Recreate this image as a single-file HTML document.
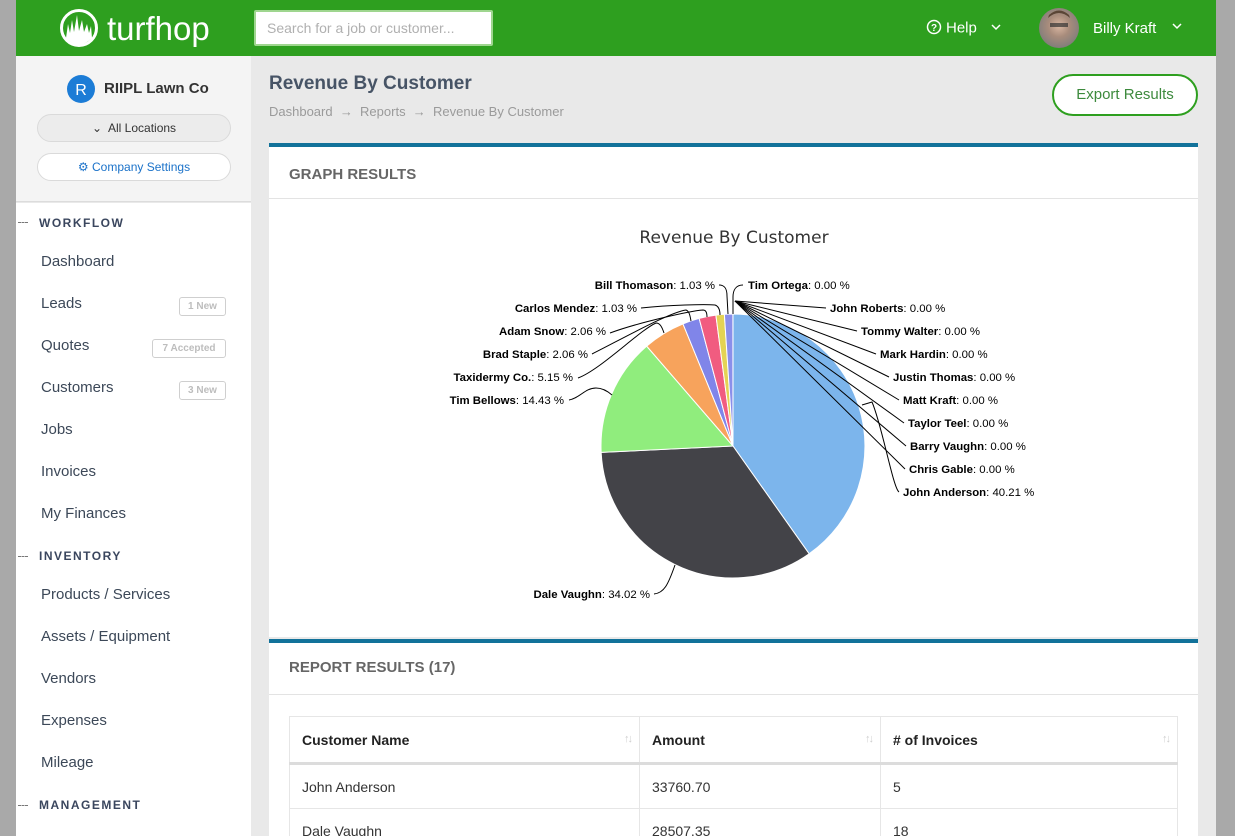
<!DOCTYPE html>
<html><head><meta charset="utf-8">
<style>
*{margin:0;padding:0;box-sizing:border-box;}
html,body{width:1235px;height:836px;overflow:hidden;background:#e9e9e9;font-family:"Liberation Sans",Arial,sans-serif;}
#wrap{position:relative;width:1235px;height:836px;overflow:hidden;}
.abs{position:absolute;}
#lg{left:0;top:0;width:16px;height:836px;background:#a9a9a9;}
#rg{left:1216px;top:0;width:19px;height:836px;background:#a9a9a9;}
#hdr{left:16px;top:0;width:1200px;height:56px;background:#2e9f1f;}
#search{left:254px;top:10px;width:239px;height:36px;background:#fff;border:2px solid #9fd68f;border-radius:2px;}
#search span{position:absolute;left:11px;top:8px;font-size:14px;color:#b0b0b0;}
#sbtop{left:16px;top:56px;width:235px;height:146px;background:#f4f4f4;border-bottom:1px solid #dcdcdc;}
#sb{left:16px;top:203px;width:235px;height:633px;background:#fff;}
.pill{position:absolute;left:37px;width:194px;height:28px;border-radius:14px;border:1px solid #dadada;font-size:12px;text-align:center;line-height:26px;}
.sec{position:absolute;left:39px;font-size:12px;font-weight:bold;letter-spacing:1.5px;color:#3a465e;line-height:14px;}
.dash{position:absolute;left:18px;width:10px;border-top:1px dashed #777;}
.it{position:absolute;left:41px;font-size:15px;color:#3c4858;line-height:20px;}
.badge{position:absolute;height:19px;border:1px solid #cfcfcf;border-radius:3px;font-size:10px;font-weight:bold;color:#bdbdbd;line-height:17px;text-align:center;}
.card{position:absolute;left:269px;width:929px;background:#fff;border-top:4px solid #12729a;}
.ch{position:absolute;left:20px;font-size:15px;font-weight:bold;color:#666;}
table{position:absolute;left:289px;top:716px;width:889px;border-collapse:collapse;font-size:14px;}
td,th{border:1px solid #e6e6e6;text-align:left;padding:0 12px;position:relative;}
th{height:47px;font-weight:bold;color:#222;border-bottom:3px solid #dcdcdc;}
td{height:45px;color:#333;}
.srt{position:absolute;right:8px;top:16px;font-size:11px;color:#cfcfcf;font-weight:normal;letter-spacing:-2px;}
</style></head><body>
<div id="wrap">
<div id="lg" class="abs"></div>
<div id="rg" class="abs"></div>
<div id="hdr" class="abs"></div>

<!-- logo -->
<svg class="abs" style="left:0;top:0" width="240" height="56">
  <circle cx="79" cy="28" r="17.5" fill="none" stroke="#fff" stroke-width="3"/>
  <path d="M66 38 L68 24 L70 33 L72 20 L74 32 L77 15 L79 31 L82 20 L84 32 L87 24 L89 33 L91 26 L92 38 Q86 44 79 45 Q71 44 66 38 Z" fill="#fff"/>
  <text x="107" y="40" font-family="Liberation Sans, Arial, sans-serif" font-size="33" fill="#fff">turfhop</text>
</svg>
<div id="search" class="abs"><span>Search for a job or customer...</span></div>

<!-- help -->
<svg class="abs" style="left:920px;top:14px" width="90" height="28">
  <circle cx="14" cy="13" r="6.5" fill="none" stroke="#fff" stroke-width="1.5"/>
  <text x="14" y="17" text-anchor="middle" font-family="Liberation Sans, Arial, sans-serif" font-size="10" font-weight="bold" fill="#fff">?</text>
  <text x="26" y="18.5" font-family="Liberation Sans, Arial, sans-serif" font-size="15" fill="#fff">Help</text>
  <path d="M72 11 L76 15 L80 11" stroke="#fff" stroke-width="1.5" fill="none"/>
</svg>
<!-- avatar -->
<svg class="abs" style="left:1036px;top:6px" width="160" height="46">
  <defs><radialGradient id="av" cx="0.5" cy="0.45" r="0.6"><stop offset="0" stop-color="#d9b7a2"/><stop offset="0.45" stop-color="#a88c7c"/><stop offset="1" stop-color="#7b7b7b"/></radialGradient></defs>
  <circle cx="23" cy="22" r="20" fill="url(#av)"/>
  <rect x="14" y="17" width="18" height="4" fill="#333" opacity="0.7"/>
  <path d="M12 12 Q23 2 34 12 L33 9 Q23 0 13 9 Z" fill="#5a4536"/>
  <text x="57" y="27" font-family="Liberation Sans, Arial, sans-serif" font-size="15" fill="#fff">Billy Kraft</text>
  <path d="M137 18 L141 22 L145 18" stroke="#fff" stroke-width="1.5" fill="none"/>
</svg>

<!-- sidebar -->
<div id="sbtop" class="abs"></div>
<div id="sb" class="abs"></div>
<svg class="abs" style="left:66px;top:74px" width="32" height="32">
  <circle cx="15" cy="15" r="14" fill="#1c7cd6"/>
  <text x="15" y="21" text-anchor="middle" font-family="Liberation Sans, Arial, sans-serif" font-size="16" fill="#fff">R</text>
</svg>
<div class="abs" style="left:104px;top:80px;font-size:15px;color:#333;font-weight:bold;line-height:18px;">RIIPL Lawn Co</div>
<div class="pill" style="top:114px;background:#ececec;color:#333;">&#8964;&nbsp; All Locations</div>
<div class="pill" style="top:153px;background:#fff;color:#1b72c9;">&#9881; Company Settings</div>

<div class="dash" style="top:222px"></div><div class="sec" style="top:216px">WORKFLOW</div>
<div class="it" style="top:252px">Dashboard</div>
<div class="it" style="top:294px">Leads</div><div class="badge" style="left:179px;top:297px;width:47px;">1 New</div>
<div class="it" style="top:336px">Quotes</div><div class="badge" style="left:152px;top:339px;width:74px;">7 Accepted</div>
<div class="it" style="top:378px">Customers</div><div class="badge" style="left:179px;top:381px;width:47px;">3 New</div>
<div class="it" style="top:420px">Jobs</div>
<div class="it" style="top:462px">Invoices</div>
<div class="it" style="top:504px">My Finances</div>
<div class="dash" style="top:556px"></div><div class="sec" style="top:549px">INVENTORY</div>
<div class="it" style="top:585px">Products / Services</div>
<div class="it" style="top:627px">Assets / Equipment</div>
<div class="it" style="top:669px">Vendors</div>
<div class="it" style="top:711px">Expenses</div>
<div class="it" style="top:753px">Mileage</div>
<div class="dash" style="top:805px"></div><div class="sec" style="top:798px">MANAGEMENT</div>

<!-- main header -->
<div class="abs" style="left:269px;top:73px;font-size:19px;font-weight:bold;color:#475466;line-height:22px;">Revenue By Customer</div>
<div class="abs" style="left:269px;top:104px;font-size:13px;color:#9a9a9a;line-height:16px;">Dashboard &nbsp;&#8594;&nbsp; Reports &nbsp;&#8594;&nbsp; Revenue By Customer</div>
<div class="abs" style="left:1052px;top:74px;width:146px;height:42px;border:2px solid #2e9f1f;border-radius:21px;background:#fff;font-size:15px;color:#3d8a3d;text-align:center;line-height:38px;">Export Results</div>

<!-- card 1 -->
<div class="card" style="top:143px;height:494px;">
  <div class="ch" style="top:19px;">GRAPH RESULTS</div>
  <div class="abs" style="left:0;top:51px;width:929px;border-top:1px solid #e3e3e3;"></div>
</div>
<!-- card 2 -->
<div class="card" style="top:639px;height:197px;">
  <div class="ch" style="top:16px;">REPORT RESULTS (17)</div>
  <div class="abs" style="left:0;top:51px;width:929px;border-top:1px solid #e3e3e3;"></div>
</div>
<table>
<tr><th style="width:350px">Customer Name<span class="srt">&#8593;&#8595;</span></th><th style="width:241px">Amount<span class="srt">&#8593;&#8595;</span></th><th>&#35; of Invoices<span class="srt">&#8593;&#8595;</span></th></tr>
<tr><td>John Anderson</td><td>33760.70</td><td>5</td></tr>
<tr><td>Dale Vaughn</td><td>28507.35</td><td>18</td></tr>
</table>

<!-- chart -->
<svg class="abs" style="left:0;top:0" width="1235" height="640" font-family="Liberation Sans, Arial, sans-serif">
  <text x="734" y="243" text-anchor="middle" font-family="DejaVu Sans, Liberation Sans, sans-serif" font-size="17" fill="#333">Revenue By Customer</text>
  <g stroke="#fff" stroke-width="1" stroke-linejoin="round">
    <path d="M733 446 L733 314 A132 132 0 0 1 809.16 553.8 Z" fill="#7cb5ec"/>
    <path d="M733 446 L809.16 553.8 A132 132 0 0 1 601.15 452.38 Z" fill="#434348"/>
    <path d="M733 446 L601.15 452.38 A132 132 0 0 1 646.69 346.12 Z" fill="#90ed7d"/>
    <path d="M733 446 L646.69 346.12 A132 132 0 0 1 682.94 323.86 Z" fill="#f7a35c"/>
    <path d="M733 446 L682.94 323.86 A132 132 0 0 1 699.13 318.42 Z" fill="#8085e9"/>
    <path d="M733 446 L699.13 318.42 A132 132 0 0 1 715.88 315.12 Z" fill="#f15c80"/>
    <path d="M733 446 L715.88 315.12 A132 132 0 0 1 724.38 314.28 Z" fill="#e4d354"/>
    <path d="M733 446 L724.38 314.28 A132 132 0 0 1 732.9 314 Z" fill="#8a8fea"/>
  </g>
  <g fill="none" stroke="#000" stroke-width="1">
    <path d="M569 400 C580 398 585 388 596 388 Q604 388 612 395"/>
    <path d="M578 378 C600 370 640 330 656 323 C660 323 662 327 664 333"/>
    <path d="M592 354 C620 340 670 312 686 310 C689 311 690 315 691 321"/>
    <path d="M610 333 C640 322 690 311 703 310 C706 310 707 313 707 317"/>
    <path d="M641 308 C670 305 705 304 715 305 C718 306 720 309 720 315"/>
    <path d="M719 285 C725 285 727 289 727 296 L728 314"/>
    <path d="M743 285 C736 285 733 290 733 297 L733 314"/>
    <path d="M654 594 C664 593 668 585 675 565"/>
    <path d="M899 492 C893 488 882 425 872 402 L862 405"/>
    <path d="M826 308 L735 301"/>
    <path d="M857 331 L735 301"/>
    <path d="M876 354 L735 301"/>
    <path d="M889 377 L735 301"/>
    <path d="M899 400 L735 301"/>
    <path d="M904 423 L735 301"/>
    <path d="M906 446 L735 301"/>
    <path d="M905 469 L735 301"/>
  </g>
  <g font-size="11.4" fill="#000">
    <text x="715" y="289" text-anchor="end"><tspan font-weight="bold">Bill Thomason</tspan>: 1.03 %</text>
    <text x="637" y="312" text-anchor="end"><tspan font-weight="bold">Carlos Mendez</tspan>: 1.03 %</text>
    <text x="606" y="335" text-anchor="end"><tspan font-weight="bold">Adam Snow</tspan>: 2.06 %</text>
    <text x="588" y="358" text-anchor="end"><tspan font-weight="bold">Brad Staple</tspan>: 2.06 %</text>
    <text x="573" y="381" text-anchor="end"><tspan font-weight="bold">Taxidermy Co.</tspan>: 5.15 %</text>
    <text x="564" y="404" text-anchor="end"><tspan font-weight="bold">Tim Bellows</tspan>: 14.43 %</text>
    <text x="650" y="598" text-anchor="end"><tspan font-weight="bold">Dale Vaughn</tspan>: 34.02 %</text>
    <text x="748" y="289"><tspan font-weight="bold">Tim Ortega</tspan>: 0.00 %</text>
    <text x="830" y="312"><tspan font-weight="bold">John Roberts</tspan>: 0.00 %</text>
    <text x="861" y="335"><tspan font-weight="bold">Tommy Walter</tspan>: 0.00 %</text>
    <text x="880" y="358"><tspan font-weight="bold">Mark Hardin</tspan>: 0.00 %</text>
    <text x="893" y="381"><tspan font-weight="bold">Justin Thomas</tspan>: 0.00 %</text>
    <text x="903" y="404"><tspan font-weight="bold">Matt Kraft</tspan>: 0.00 %</text>
    <text x="908" y="427"><tspan font-weight="bold">Taylor Teel</tspan>: 0.00 %</text>
    <text x="910" y="450"><tspan font-weight="bold">Barry Vaughn</tspan>: 0.00 %</text>
    <text x="909" y="473"><tspan font-weight="bold">Chris Gable</tspan>: 0.00 %</text>
    <text x="903" y="496"><tspan font-weight="bold">John Anderson</tspan>: 40.21 %</text>
  </g>
</svg>
</div>
</body></html>
